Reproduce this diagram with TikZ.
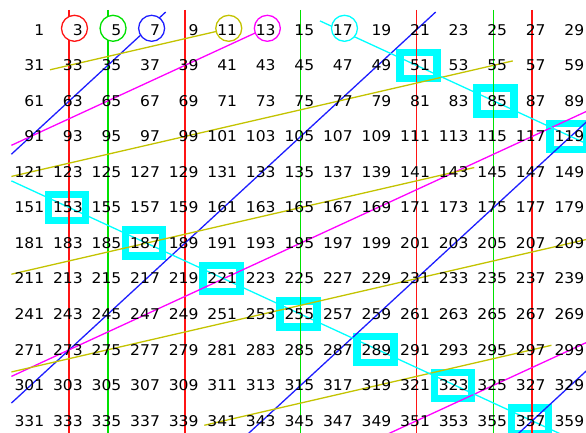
\documentclass[tikz,border=0pt]{standalone}
\usepackage{fontspec}
\setmainfont{DejaVu Sans}[FakeStretch=1.05]
\definecolor{cRed}{RGB}{255,20,20}
\definecolor{cGreen}{RGB}{0,225,0}
\definecolor{cBlue}{RGB}{30,30,255}
\definecolor{cOlive}{RGB}{195,195,0}
\definecolor{cMag}{RGB}{255,0,255}
\definecolor{cCyan}{RGB}{0,255,255}
\begin{document}
\begin{tikzpicture}[x=38.57pt,y=-35.55pt,
  num/.style={anchor=base east,inner sep=0pt,font=\fontsize{14.8}{16}\selectfont},
  ring/.style={circle,draw,fill=white,line width=1.3pt,minimum size=26pt,inner sep=0pt},
  sbox/.style={rectangle,draw=cCyan,line width=7.5pt,minimum width=37pt,minimum height=26pt,inner sep=0pt},
  vline/.style={line width=1.6pt},
  dline/.style={line width=1.3pt}]
\useasboundingbox (-0.796,-0.838) rectangle (14.397,11.314);
% boxes around multiples of 17
\foreach \ri/\ci/\dx in {1/10/0.054,2/12/0.054,3/14/-0.057,5/1/-0.057,6/3/-0.057,7/5/-0.057,8/7/-0.057,9/9/-0.057,10/11/-0.057,11/13/-0.057}{
  \pgfmathtruncatemacro{\nn}{30*\ri+2*\ci+1}
  \node[sbox] (box\nn) at (\ci+\dx,\ri) {};
}
\begin{scope}
\clip (-0.796,-0.838) rectangle (14.397,11.314);
% vertical lines
\foreach \ci/\col in {1/cRed,4/cRed,10/cRed,13/cRed,2/cGreen,7/cGreen,12/cGreen}{
  \coordinate (vt\ci) at (\ci,-0.56);
  \coordinate (vb\ci) at (\ci,11.6);
  \draw[vline,draw=\col] (vt\ci) -- (vb\ci);
}
% diagonal lines
\foreach \nm/\col/\xa/\ya/\xb/\yb in {
  b1/cBlue/3.5/-0.5/-0.5/3.5,
  b2/cBlue/10.5/-0.5/-0.5/10.5,
  b3/cBlue/15/2/5/12,
  b4/cBlue/15/9/12/12,
  m1/cMag/6/0/-0.5/3.25,
  m2/cMag/15/2/-0.5/9.75,
  m3/cMag/15/8.5/8/12,
  o1/cOlive/5/0/0.5/1.125,
  o2/cOlive/12.5/0.875/-0.5/4.125,
  o3/cOlive/11.5/3.875/-0.5/6.875,
  o4/cOlive/15/5.75/-0.5/9.625,
  o5/cOlive/13.5/8.875/4.5/11.125,
  c1/cCyan/7.5/-0.25/15/3.5,
  c2/cCyan/-0.5/4.25/15/12}{
  \coordinate (\nm s) at (\xa,\ya);
  \coordinate (\nm e) at (\xb,\yb);
  \draw[dline,draw=\col] (\nm s) -- (\nm e);
}
\end{scope}
% circles round the primes
\foreach \ci/\col in {1/cRed,2/cGreen,3/cBlue,5/cOlive,6/cMag,8/cCyan}{
  \pgfmathtruncatemacro{\nn}{2*\ci+1}
  \node[ring,draw=\col] (ring\nn) at (\ci+0.135,-0.042) {};
}
% numbers
\foreach \ri in {0,...,11}{
  \foreach \ci in {0,...,14}{
    \pgfmathtruncatemacro{\nn}{30*\ri+2*\ci+1}
    \node[num] (n\nn) at (\ci+0.355,\ri+0.149) {\nn};
  }
}
\end{tikzpicture}
\end{document}
